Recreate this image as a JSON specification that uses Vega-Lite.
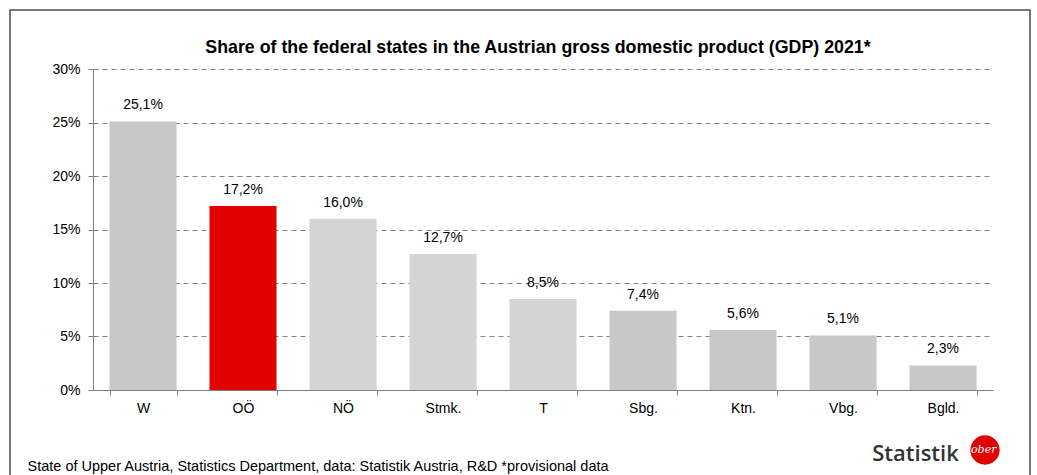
{
  "$schema": "https://vega.github.io/schema/vega-lite/v6.json",
  "width": 1020,
  "height": 480,
  "autosize": {"type": "none"},
  "padding": {"left": 10, "top": 10, "right": 7, "bottom": 0},
  "background": "white",
  "config": {
    "locale": {"number": {"decimal": ",", "thousands": ".", "grouping": [3], "currency": ["", " €"]}},
    "font": "Liberation Sans",
    "view": {"stroke": "#4d4d4d", "strokeWidth": 1.5}
  },
  "title": {
    "text": "Share of the federal states in the Austrian gross domestic product (GDP) 2021*",
    "font": "Liberation Sans",
    "fontSize": 17.8,
    "fontWeight": "bold",
    "color": "#000000",
    "anchor": "middle",
    "frame": "group",
    "baseline": "alphabetic",
    "offset": 0,
    "dx": 18,
    "dy": 61
  },
  "data": {
    "values": [
      {"state": "W", "share": 0.251, "shade": "dark"},
      {"state": "OÖ", "share": 0.172, "shade": "highlight"},
      {"state": "NÖ", "share": 0.160, "shade": "light"},
      {"state": "Stmk.", "share": 0.127, "shade": "light"},
      {"state": "T", "share": 0.085, "shade": "light"},
      {"state": "Sbg.", "share": 0.074, "shade": "dark"},
      {"state": "Ktn.", "share": 0.056, "shade": "dark"},
      {"state": "Vbg.", "share": 0.051, "shade": "dark"},
      {"state": "Bgld.", "share": 0.023, "shade": "dark"}
    ]
  },
  "encoding": {
    "x": {
      "field": "state",
      "type": "nominal",
      "sort": null,
      "scale": {"range": [83, 983], "paddingInner": 0.33, "paddingOuter": 0.165},
      "axis": {
        "orient": "bottom",
        "offset": -100,
        "tickBand": "extent",
        "domainColor": "#808080",
        "tickColor": "#808080",
        "tickSize": 5,
        "labelFontSize": 14,
        "labelColor": "#000000",
        "labelPadding": 6,
        "labelAngle": 0,
        "title": "State of Upper Austria, Statistics Department, data: Statistik Austria, R&D *provisional data",
        "titleX": 17,
        "titleY": 80,
        "titleAlign": "left",
        "titleAnchor": "start",
        "titleBaseline": "alphabetic",
        "titleFontSize": 14.5,
        "titleFontWeight": "normal",
        "titleColor": "#000000"
      }
    },
    "y": {
      "field": "share",
      "type": "quantitative",
      "scale": {"domain": [0, 0.3], "range": [380, 59], "nice": false},
      "axis": {
        "offset": -83,
        "values": [0, 0.05, 0.1, 0.15, 0.2, 0.25, 0.3],
        "format": ".0%",
        "grid": true,
        "gridDash": [5, 4],
        "gridColor": "#808080",
        "gridWidth": 1,
        "domainColor": "#808080",
        "tickColor": "#808080",
        "tickSize": 5,
        "labelFontSize": 14,
        "labelColor": "#000000",
        "labelPadding": 8,
        "title": "Statistik",
        "titleAngle": 0,
        "titleX": 822,
        "titleY": 443,
        "titleAlign": "center",
        "titleBaseline": "middle",
        "titleFont": "Open Sans",
        "titleFontWeight": 600,
        "titleFontSize": 22,
        "titleColor": "#333333"
      }
    }
  },
  "layer": [
    {
      "mark": {"type": "bar"},
      "encoding": {
        "color": {
          "field": "shade",
          "type": "nominal",
          "scale": {"domain": ["dark", "light", "highlight"], "range": ["#c8c8c8", "#d4d4d4", "#e00000"]},
          "legend": {
            "orient": "none",
            "legendX": 960,
            "legendY": 425,
            "values": ["highlight"],
            "title": null,
            "padding": 0,
            "symbolType": "circle",
            "symbolSize": 860,
            "symbolStrokeWidth": 0,
            "symbolOpacity": 1,
            "labelExpr": "'ober'",
            "labelColor": "#ffffff",
            "labelFontSize": 11,
            "labelFont": "DejaVu Serif",
            "labelFontStyle": "italic",
            "labelOffset": -29
          }
        }
      }
    },
    {
      "mark": {"type": "text", "dy": -12, "baseline": "alphabetic", "fontSize": 14, "color": "#000000"},
      "encoding": {
        "text": {"field": "share", "type": "quantitative", "format": ".1%"}
      }
    }
  ]
}
